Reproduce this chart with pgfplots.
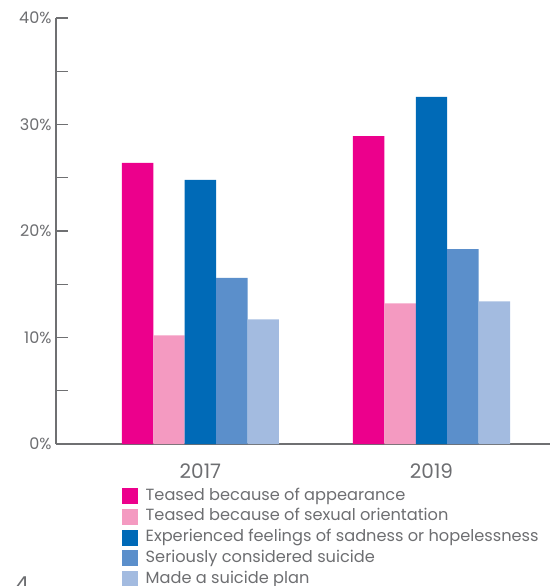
\documentclass[border=0pt]{standalone}
\usepackage{pgfplots}
\pgfplotsset{compat=1.18}
\usepackage{fontspec}
\setmainfont{Poppins}
\definecolor{txtgray}{HTML}{6D6E71}
\definecolor{axgray}{HTML}{6F7072}
\definecolor{cA}{HTML}{EC008C}
\definecolor{cB}{HTML}{F49AC1}
\definecolor{cC}{HTML}{006AB7}
\definecolor{cD}{HTML}{5B8FCB}
\definecolor{cE}{HTML}{A3BBE0}
\begin{document}
\begin{tikzpicture}[x=1pt,y=1pt]
\useasboundingbox (0,0) rectangle (554,586);
\begin{axis}[
  at={(56pt,142pt)}, anchor=south west,
  scale only axis, width=494pt, height=426pt,
  xmin=-0.625, xmax=1.513,
  ymin=0, ymax=40,
  axis lines*=left,
  axis line style={draw=axgray, line width=1.6pt},
  ytick={0,10,20,30,40},
  minor ytick={5,15,25,35},
  yticklabels={0\%,10\%,20\%,30\%,40\%},
  y tick style={draw=axgray, line width=1.3pt},
  major tick length=12pt, minor tick length=12pt,
  tick align=inside,
  yticklabel style={font=\fontsize{16}{16}\selectfont, text=txtgray, xshift=-1pt},
  xtick={0,1}, xticklabels={2017,2019},
  x tick style={draw=none},
  xticklabel style={font=\fontsize{20}{20}\selectfont, text=txtgray, yshift=-4pt},
  extra x ticks={0.5,1.5}, extra x tick labels={},
  extra x tick style={tick style={draw=axgray, line width=1.3pt}, major tick length=10pt},
  ybar=0pt, bar width=0.136,
  legend style={at={(axis description cs:0.1336,-0.1005)}, anchor=north west, draw=none, fill=none,
    font=\fontsize{16.2}{16.2}\selectfont, text=txtgray, inner sep=0pt, row sep=2.75pt,
    column sep=6.5pt,
    nodes={inner sep=1pt, text height=12pt, text depth=4pt},
    cells={anchor=west}},
  legend cell align=left,
  legend image code/.code={\fill[#1] (0pt,-8pt) rectangle (16pt,8pt);},
]
\addplot[draw=none, fill=cA] coordinates {(0,26.4) (1,28.9)};
\addplot[draw=none, fill=cB] coordinates {(0,10.2) (1,13.2)};
\addplot[draw=none, fill=cC] coordinates {(0,24.8) (1,32.6)};
\addplot[draw=none, fill=cD] coordinates {(0,15.6) (1,18.3)};
\addplot[draw=none, fill=cE] coordinates {(0,11.7) (1,13.4)};
\legend{Teased because of appearance, Teased because of sexual orientation, Experienced feelings of sadness or hopelessness, Seriously considered suicide, Made a suicide plan}
\end{axis}
\node[anchor=north, text=txtgray, font=\fontsize{22}{22}\selectfont, inner sep=0pt] at (22,9) {4};
\end{tikzpicture}
\end{document}
